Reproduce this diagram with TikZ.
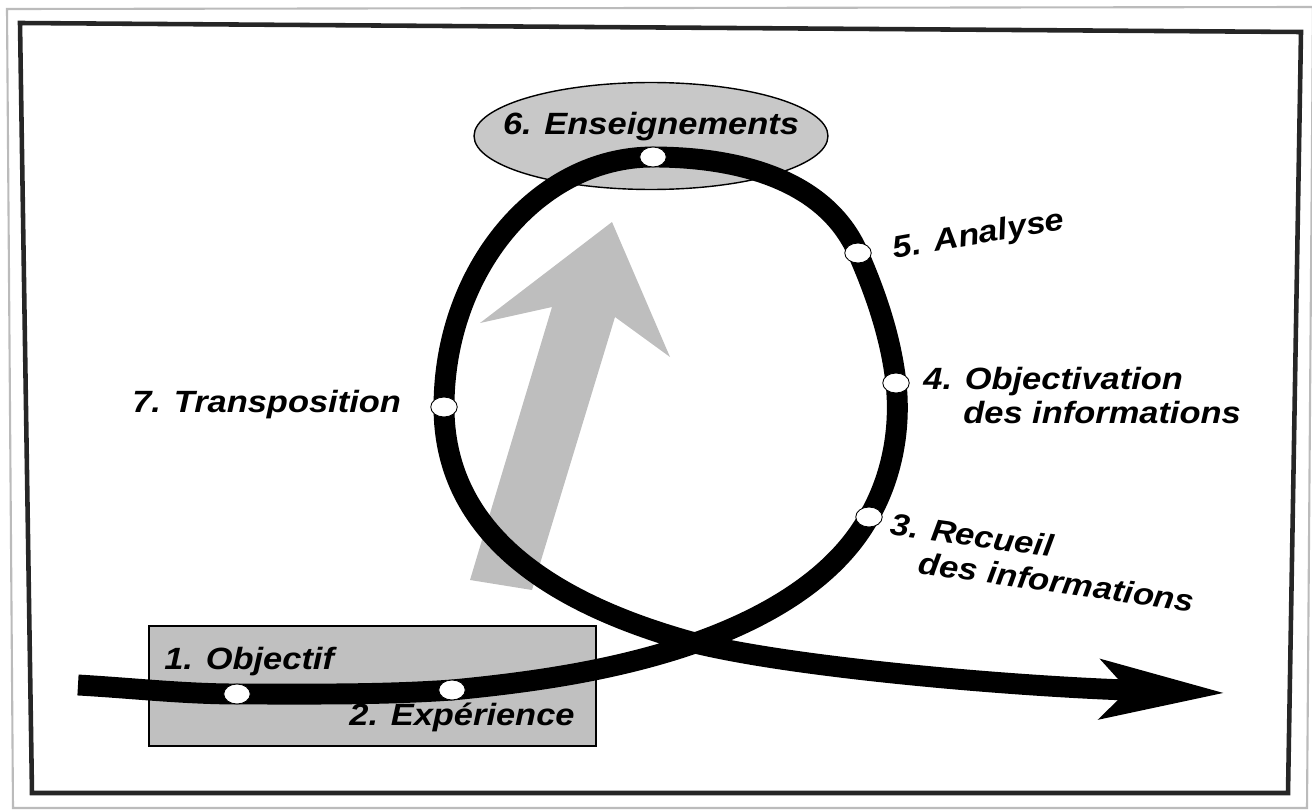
\documentclass[tikz,border=0pt]{standalone}
\usepackage{fontspec}
\newfontfamily\lab{Liberation Sans}[FakeStretch=1.12]
\usetikzlibrary{arrows.meta,shapes.geometric}
\definecolor{boxgray}{HTML}{C0C0C0}
\definecolor{ellgray}{HTML}{C8C8C8}
\definecolor{arrgray}{HTML}{BEBEBE}
\definecolor{framegray}{HTML}{BBBBBB}
\begin{document}
\begin{tikzpicture}[x=0.02cm,y=-0.02cm,
  lbl/.style={font=\lab\bfseries\itshape\fontsize{17.5}{21}\selectfont, inner sep=0pt, align=left},
  dot/.style={ellipse, draw=black, line width=0.5pt, fill=white, inner sep=0pt, minimum width=0.53cm, minimum height=0.40cm},
  loop/.style={line width=11.9pt, line cap=butt, line join=round},
  frameline/.style={line width=2.6pt, draw=black!85}
]
\useasboundingbox (0,0) rectangle (1312,811);
% frames
\draw[framegray, line width=1.2pt] (7,9) -- (1313,7) -- (1307,808) -- (13,808) -- cycle;
\draw[frameline] (20,23) -- (1301,32) -- (1288,793) -- (32,793) -- cycle;
% gray box and ellipse
\draw[fill=boxgray, line width=0.9pt] (149,626) rectangle (596,746);
\node (ens) [ellipse, draw, fill=ellgray, line width=0.8pt, minimum width=7.08cm, minimum height=2.14cm, inner sep=0pt] at (651,136) {};
% big gray arrow
\fill[arrgray] (470,580) -- (532,590) -- (615,317) -- (670,357) -- (612,222) -- (480,323) -- (552,307) -- cycle;
% key points
\coordinate (p1) at (237,694);
\coordinate (p2) at (452,690);
\coordinate (p3) at (869,517);
\coordinate (p4) at (896,383);
\coordinate (p5) at (858,253);
\coordinate (p6) at (653,157);
\coordinate (p7) at (444,407);
\coordinate (x) at (695,643);
\coordinate (start) at (78,685);
\coordinate (tip) at (1225,693);
% black path
\draw[loop, -{Stealth[length=70pt,width=33pt,inset=15pt]}]
  (start) .. controls (131,688) and (184,694) .. (p1)
          .. controls (309,694) and (380,695) .. (p2)
          .. controls (535,682) and (617,670) .. (x)
          .. controls (763,619) and (834,580) .. (p3)
          .. controls (892,477) and (901,429) .. (p4)
          .. controls (891,338) and (876,294) .. (p5)
          .. controls (825,178) and (735,157) .. (p6)
          .. controls (538,157) and (444,270) .. (p7)
          .. controls (444,527) and (541,601) .. (x)
          .. controls (802,669) and (1025,687) .. (tip);
% dots
\foreach \p in {p1,p2,p3,p4,p5,p6,p7} \node[dot] (d\p) at (\p) {};
% labels
\node[lbl] (l6) at (651,127) {6. Enseignements};
\node[lbl, rotate=10] (l5) at (979,236) {5. Analyse};
\node[lbl, anchor=west] (l4a) at (923,382) {4. Objectivation};
\node[lbl, anchor=west] (l4b) at (963,413) {des informations};
\node[lbl, anchor=north west, rotate=-8, font=\lab\bfseries\itshape\fontsize{17.5}{19.6}\selectfont] (l3) at (892,512)
  {3. Recueil\\\hspace*{19.3pt}des informations};
\node[lbl, anchor=west] (l7) at (132,405) {7. Transposition};
\node[lbl, anchor=west] (l1) at (164,662) {1. Objectif};
\node[lbl, anchor=west] (l2) at (349,717) {2. Expérience};
\end{tikzpicture}
\end{document}
